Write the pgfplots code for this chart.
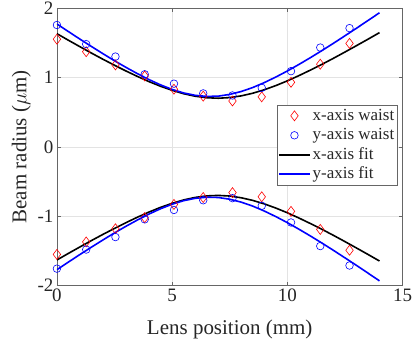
\documentclass[border=0pt]{standalone}
\usepackage{fontspec}
\setmainfont{Liberation Serif}
\usepackage{pgfplots}
\pgfplotsset{compat=1.18}
\begin{document}
\begin{tikzpicture}
\begin{axis}[
 name=ax,
 scale only axis, width=346pt, height=278pt,
 xmin=0, xmax=15, ymin=-2, ymax=2,
 xtick={0,5,10,15}, ytick={-2,-1,0,1,2},
 grid=major, major grid style={gray!22, line width=0.5pt},
 axis line style={black!60, line width=0.6pt},
 tick style={black!60, line width=0.6pt}, tick align=inside, major tick length=4pt,
 /pgf/number format/assume math mode=true,
 ticklabel style={font=\fontsize{19}{22}\selectfont, text=black!85},
 xlabel={Lens position (mm)}, ylabel={Beam radius ($\mu$m)},
 label style={font=\fontsize{21}{24}\selectfont, text=black!85},
 xlabel shift=11pt,
 ylabel shift=0pt,
 legend cell align=left,
 legend style={at={(0.9855,0.651)}, anchor=north east, draw=black!60, fill=white,
   font=\fontsize{17}{20}\selectfont, text=black!85, inner sep=1pt, row sep=0pt,
   nodes={inner sep=2pt, text height=12pt, text depth=3.5pt}},
 legend image code/.code={\draw[mark repeat=2,mark phase=2] plot coordinates {(0pt,0pt) (15.5pt,0pt) (31pt,0pt)};},
]
% x-axis waist (red diamonds)
\addplot[only marks, mark=diamond, mark size=5pt, red, mark options={draw=red, line width=0.6pt}] table {
x y
0 1.55
1.27 1.37
2.54 1.18
3.81 1.02
5.08 0.83
6.35 0.73
7.62 0.66
8.89 0.72
10.16 0.93
11.43 1.19
12.7 1.49
};
\addlegendentry{x-axis waist}
\addplot[only marks, mark=diamond, mark size=5pt, red, mark options={draw=red, line width=0.6pt}, forget plot] table {
x y
0 -1.55
1.27 -1.37
2.54 -1.18
3.81 -1.02
5.08 -0.83
6.35 -0.73
7.62 -0.66
8.89 -0.72
10.16 -0.93
11.43 -1.19
12.7 -1.49
};
% y-axis waist (blue circles)
\addplot[only marks, mark=o, mark size=3.8pt, blue, mark options={draw=blue, line width=0.6pt}] table {
x y
0 1.755
1.27 1.48
2.54 1.30
3.81 1.045
5.08 0.91
6.35 0.77
7.62 0.74
8.89 0.85
10.16 1.09
11.43 1.43
12.7 1.71
};
\addlegendentry{y-axis waist}
\addplot[only marks, mark=o, mark size=3.8pt, blue, mark options={draw=blue, line width=0.6pt}, forget plot] table {
x y
0 -1.755
1.27 -1.48
2.54 -1.30
3.81 -1.045
5.08 -0.91
6.35 -0.77
7.62 -0.74
8.89 -0.85
10.16 -1.09
11.43 -1.43
12.7 -1.71
};
% x-axis fit
\addplot[black, line width=1.6pt] table {
x y
0 1.630
0.5 1.535
1 1.442
1.5 1.350
2 1.261
2.5 1.175
3 1.092
3.5 1.013
4 0.939
4.5 0.872
5 0.814
5.5 0.765
6 0.729
6.5 0.707
7 0.700
7.5 0.709
8 0.734
8.5 0.772
9 0.822
9.5 0.882
10 0.950
10.5 1.025
11 1.105
11.5 1.188
12 1.275
12.5 1.365
13 1.457
13.5 1.550
14 1.645
};
\addlegendentry{x-axis fit}
\addplot[black, line width=1.6pt, forget plot] table {
x y
0 -1.630
0.5 -1.535
1 -1.442
1.5 -1.350
2 -1.261
2.5 -1.175
3 -1.092
3.5 -1.013
4 -0.939
4.5 -0.872
5 -0.814
5.5 -0.765
6 -0.729
6.5 -0.707
7 -0.700
7.5 -0.709
8 -0.734
8.5 -0.772
9 -0.822
9.5 -0.882
10 -0.950
10.5 -1.025
11 -1.105
11.5 -1.188
12 -1.275
12.5 -1.365
13 -1.457
13.5 -1.550
14 -1.645
};
% y-axis fit
\addplot[blue, line width=1.6pt] table {
x y
0 1.770
0.5 1.660
1 1.551
1.5 1.445
2 1.341
2.5 1.240
3 1.144
3.5 1.053
4 0.968
4.5 0.892
5 0.827
5.5 0.776
6 0.742
6.5 0.726
7 0.730
7.5 0.755
8 0.797
8.5 0.854
9 0.925
9.5 1.005
10 1.092
10.5 1.186
11 1.284
11.5 1.386
12 1.491
12.5 1.599
13 1.708
13.5 1.819
14 1.931
};
\addlegendentry{y-axis fit}
\addplot[blue, line width=1.6pt, forget plot] table {
x y
0 -1.770
0.5 -1.660
1 -1.551
1.5 -1.445
2 -1.341
2.5 -1.240
3 -1.144
3.5 -1.053
4 -0.968
4.5 -0.892
5 -0.827
5.5 -0.776
6 -0.742
6.5 -0.726
7 -0.730
7.5 -0.755
8 -0.797
8.5 -0.854
9 -0.925
9.5 -1.005
10 -1.092
10.5 -1.186
11 -1.284
11.5 -1.386
12 -1.491
12.5 -1.599
13 -1.708
13.5 -1.819
14 -1.931
};
\end{axis}
\pgfresetboundingbox
\path ([shift={(-57pt,-59pt)}]ax.south west) rectangle ([shift={(9.5pt,8pt)}]ax.north east);
\end{tikzpicture}
\end{document}
